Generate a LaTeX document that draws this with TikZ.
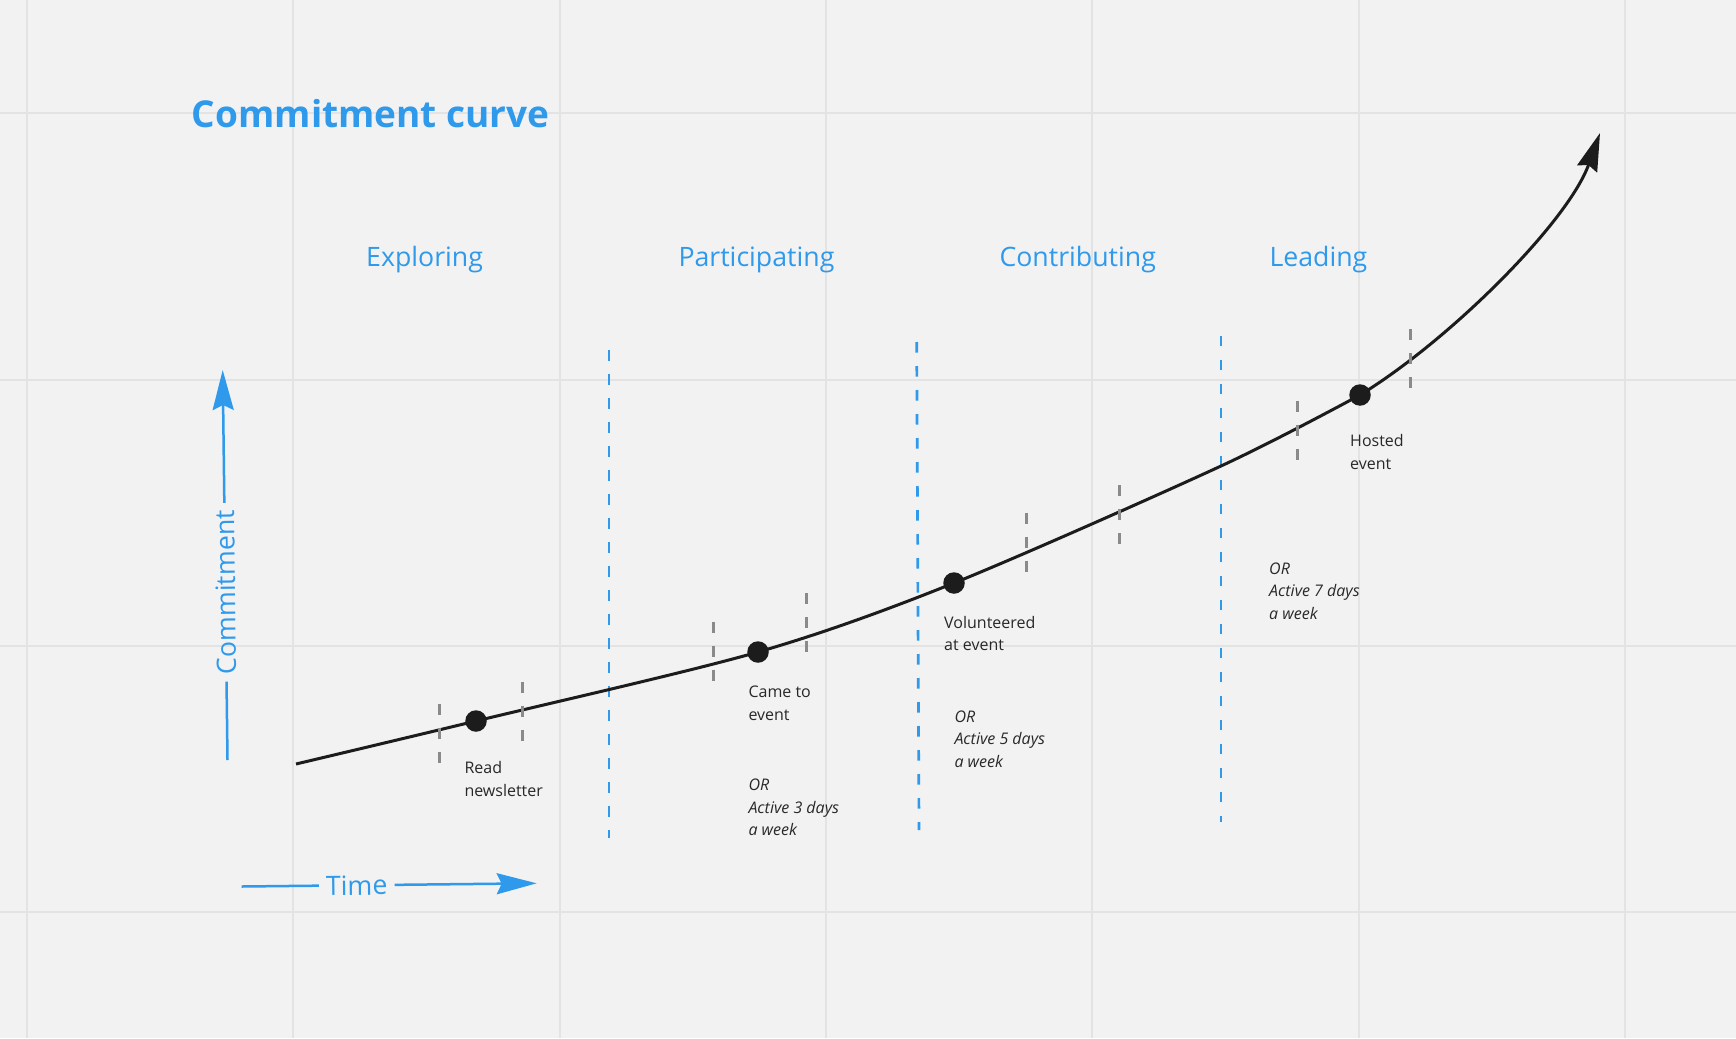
\documentclass[tikz,border=0pt]{standalone}
\usepackage{fontspec}
\setmainfont{Open Sans}
\usetikzlibrary{arrows.meta}

\definecolor{boardbg}{RGB}{242,242,242}
\definecolor{gridgray}{RGB}{227,227,227}
\definecolor{stageblue}{RGB}{47,153,235}
\definecolor{tickgray}{RGB}{138,138,138}
\definecolor{dotblack}{RGB}{28,28,28}
\definecolor{notegray}{RGB}{40,40,40}

\begin{document}
\begin{tikzpicture}[x=1pt, y=-1pt]
            % Define styles
            \tikzstyle{stage} = [anchor=base west, inner sep=0pt, text=stageblue, font=\fontsize{26.7}{32}\selectfont]
            \tikzstyle{milestone} = [circle, fill=dotblack, minimum size=21.5pt, inner sep=0pt]
            \tikzstyle{note} = [anchor=base west, inner sep=0pt, align=left, text=notegray, font=\fontsize{16}{22.6}\selectfont]
            \tikzstyle{alt note} = [note, font=\fontsize{16}{22.6}\selectfont\itshape]
            \tikzstyle{boundary} = [draw=stageblue, line width=2.7pt, dash pattern=on 10.7pt off 13.3pt]
            \tikzstyle{gaptick} = [draw=tickgray, line width=3pt, dash pattern=on 11pt off 13pt]
            \tikzstyle{axis} = [draw=stageblue, line width=2.5pt]
            \tikzstyle{axis label} = [text=stageblue, font=\fontsize{26.7}{32}\selectfont, inner xsep=7pt, inner ysep=0pt]
            
            % Board and grid
            \fill[boardbg] (0,0) rectangle (1736,1038);
            \useasboundingbox (0,0) rectangle (1736,1038);
            \foreach \k in {0,...,6}
                \draw[gridgray, line width=2pt] ({27+266.3*\k},0) -- ({27+266.3*\k},1038);
            \foreach \k in {0,...,3}
                \draw[gridgray, line width=2pt] (0,{113.3+266.3*\k}) -- (1736,{113.3+266.3*\k});
            
            % Title
            \node[anchor=base west, inner sep=0pt, text=stageblue, font=\fontsize{37}{44}\selectfont\bfseries] (title) at (191.7,128) {Commitment curve};
            
            % Stage labels
            \node[stage] (exploring) at (366,266) {Exploring};
            \node[stage] (participating) at (678.3,266) {Participating};
            \node[stage] (contributing) at (999.3,266) {Contributing};
            \node[stage] (leading) at (1269.3,266) {Leading};
            
            % Stage boundaries
            \draw[boundary] (609,350) -- (609,838);
            \draw[boundary] (916.7,342) -- (919,830);
            \draw[boundary] (1221,335.5) -- (1221,821.5);
            
            % Milestones on the curve
            \coordinate (curve start) at (296,764);
            \coordinate (curve end) at (1600,133);
            \node[milestone] (read) at (476,721) {};
            \node[milestone] (came) at (758,652) {};
            \node[milestone] (volunteered) at (954,583) {};
            \node[milestone] (hosted) at (1360,395) {};
            
            % Commitment curve
            \draw[line width=3pt, dotblack, -{Stealth[length=38pt, width=21pt, inset=4pt]}]
                plot[smooth, tension=0.5] coordinates {(curve start) (read.center) (came.center)
                (volunteered.center) (1221,466) (hosted.center)}
                .. controls (1450,340) and (1568,222) .. (curve end);
            
            % Gap ticks around each milestone
            \foreach \tx/\ty in {439.4/704, 522.4/681.7, 713.3/621.7, 806.7/593.3,
                                 1026.3/512.6, 1119.3/485, 1297.3/400.7, 1410.3/329}
                \draw[gaptick] (\tx,\ty) -- ++(0,59);
            
            % Milestone notes (placed at the baseline of their last line)
            \node[note] (read note) at (464.3,796) {Read\\newsletter};
            \node[note] (came note) at (748.3,720) {Came to\\event};
            \node[alt note] (came alt) at (748.3,835.7) {OR\\Active 3 days\\a week};
            \node[note] (volunteered note) at (944,650.8) {Volunteered\\at event};
            \node[alt note] (volunteered alt) at (954.3,767.5) {OR\\Active 5 days\\a week};
            \node[note] (hosted note) at (1350,469.3) {Hosted\\event};
            \node[alt note] (hosted alt) at (1269,619.5) {OR\\Active 7 days\\a week};
            
            % Commitment axis
            \coordinate (commit foot) at (227.5,760);
            \coordinate (commit head) at (222.7,370);
            \path (commit foot) -- node[pos=0.43, sloped, allow upside down, axis label] (commit) {Commitment} (commit head);
            \draw[axis] (commit foot) -- (commit.west);
            \draw[axis, -{Stealth[length=40pt, width=21pt, inset=5pt]}] (commit.east) -- (commit head);
            
            % Time axis
            \coordinate (time tail) at (241.7,886.5);
            \coordinate (time head) at (536.7,883.3);
            \path (time tail) -- node[pos=0.39, sloped, axis label] (time) {Time} (time head);
            \draw[axis] (time tail) -- (time.west);
            \draw[axis, -{Stealth[length=40pt, width=21pt, inset=5pt]}] (time.east) -- (time head);
\end{tikzpicture}
\end{document}
